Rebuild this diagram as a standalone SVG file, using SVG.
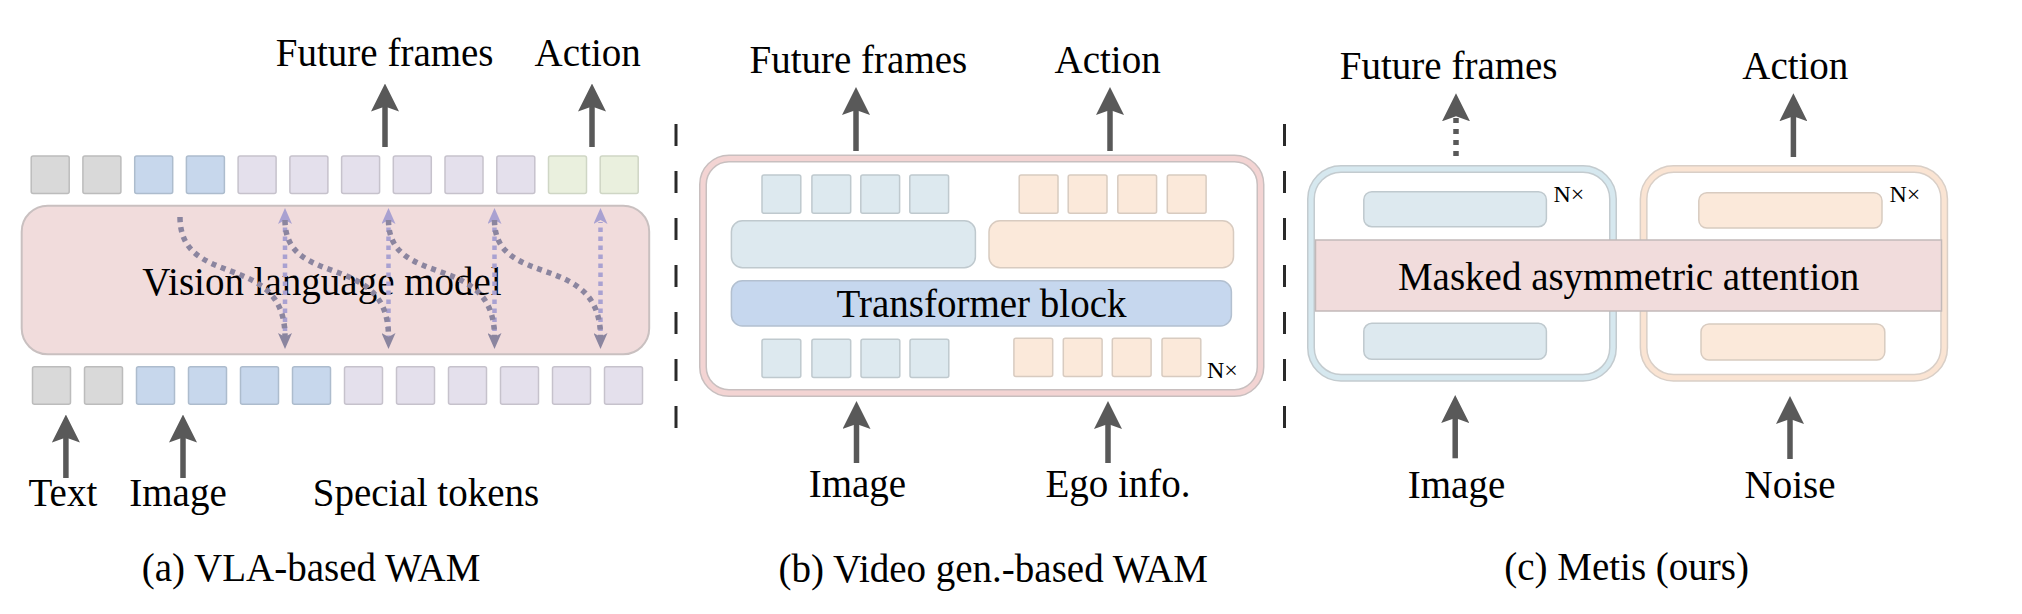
<svg xmlns="http://www.w3.org/2000/svg" width="2022" height="614" viewBox="0 0 2022 614">
<style>
text{font-family:'Liberation Serif','Times New Roman',serif;font-size:39px;fill:#000;text-anchor:middle}
.nx{font-size:24px;text-anchor:start}
.tg{fill:#d9d9d9;stroke:#bcbcbc;stroke-width:1.5}
.tb{fill:#c7d7ec;stroke:#adbccd;stroke-width:1.5}
.tl{fill:#e4e0ec;stroke:#c6c2cc;stroke-width:1.5}
.tn{fill:#eaf0de;stroke:#cfd6c5;stroke-width:1.5}
.lb{fill:#dde9ef;stroke:#bfc9ce;stroke-width:1.5}
.pc{fill:#fbe9da;stroke:#d8cbc0;stroke-width:1.5}
.arr{stroke:#595959;stroke-width:5.5;fill:none;marker-end:url(#ah)}
.sep{stroke:#2a2a2a;stroke-width:3;stroke-dasharray:22 25}
.vl{stroke:#a9a1d1;stroke-width:4.5;stroke-dasharray:4.5 4.5;fill:none;marker-end:url(#ahl)}
.cv{stroke:#8b859f;stroke-width:5.5;stroke-dasharray:5 5;fill:none;marker-end:url(#ahd)}
</style>
<defs>
<marker id="ah" markerUnits="userSpaceOnUse" viewBox="0 0 28 28" markerWidth="28" markerHeight="28" refX="8" refY="14" orient="auto"><path d="M0,0 L28,14 L0,28 L5,14 Z" fill="#595959"/></marker>
<marker id="ahl" markerUnits="userSpaceOnUse" viewBox="0 0 16 14" markerWidth="16" markerHeight="14" refX="2" refY="7" orient="auto"><path d="M0,0 L16,7 L0,14 L4,7 Z" fill="#a9a1d1"/></marker>
<marker id="ahd" markerUnits="userSpaceOnUse" viewBox="0 0 16 14" markerWidth="16" markerHeight="14" refX="4" refY="7" orient="auto"><path d="M0,0 L16,7 L0,14 L4,7 Z" fill="#8b859f"/></marker>
</defs>

<g id="separators">
<line class="sep" x1="676" y1="124" x2="676" y2="432"/>
<line class="sep" x1="1284.5" y1="124" x2="1284.5" y2="432"/>
</g>

<!-- Panel (a) -->
<g id="a-top-tokens">
<rect class="tg" x="31.2" y="156" width="38" height="37.5" rx="2"/>
<rect class="tg" x="82.9" y="156" width="38" height="37.5" rx="2"/>
<rect class="tb" x="134.7" y="156" width="38" height="37.5" rx="2"/>
<rect class="tb" x="186.4" y="156" width="38" height="37.5" rx="2"/>
<rect class="tl" x="238.1" y="156" width="38" height="37.5" rx="2"/>
<rect class="tl" x="289.9" y="156" width="38" height="37.5" rx="2"/>
<rect class="tl" x="341.6" y="156" width="38" height="37.5" rx="2"/>
<rect class="tl" x="393.3" y="156" width="38" height="37.5" rx="2"/>
<rect class="tl" x="445" y="156" width="38" height="37.5" rx="2"/>
<rect class="tl" x="496.8" y="156" width="38" height="37.5" rx="2"/>
<rect class="tn" x="548.5" y="156" width="38" height="37.5" rx="2"/>
<rect class="tn" x="600.2" y="156" width="38" height="37.5" rx="2"/>
</g>
<g id="a-vlm">
<rect x="21.7" y="205.7" width="627.5" height="148.6" rx="26" fill="#f1dcdc" stroke="#c9c0c0" stroke-width="2"/>
<text x="322" y="295">Vision language model</text>
</g>
<g id="a-bottom-tokens">
<rect class="tg" x="32.5" y="366.7" width="38" height="37.5" rx="2"/>
<rect class="tg" x="84.5" y="366.7" width="38" height="37.5" rx="2"/>
<rect class="tb" x="136.5" y="366.7" width="38" height="37.5" rx="2"/>
<rect class="tb" x="188.5" y="366.7" width="38" height="37.5" rx="2"/>
<rect class="tb" x="240.5" y="366.7" width="38" height="37.5" rx="2"/>
<rect class="tb" x="292.5" y="366.7" width="38" height="37.5" rx="2"/>
<rect class="tl" x="344.5" y="366.7" width="38" height="37.5" rx="2"/>
<rect class="tl" x="396.5" y="366.7" width="38" height="37.5" rx="2"/>
<rect class="tl" x="448.5" y="366.7" width="38" height="37.5" rx="2"/>
<rect class="tl" x="500.5" y="366.7" width="38" height="37.5" rx="2"/>
<rect class="tl" x="552.5" y="366.7" width="38" height="37.5" rx="2"/>
<rect class="tl" x="604.5" y="366.7" width="38" height="37.5" rx="2"/>
</g>
<g id="a-labels">
<text x="384.7" y="66">Future frames</text>
<text x="587.7" y="66">Action</text>
<text x="62.9" y="506">Text</text>
<text x="178" y="506">Image</text>
<text x="426" y="506">Special tokens</text>
<text x="311" y="581">(a) VLA-based WAM</text>
</g>

<!-- Panel (b) -->
<g id="b-block">
<rect x="703" y="158.5" width="557.5" height="234.5" rx="26" fill="#fff" stroke="#c8bfbf" stroke-width="8"/>
<rect x="703" y="158.5" width="557.5" height="234.5" rx="26" fill="none" stroke="#f3d4d3" stroke-width="5"/>
<rect class="lb" x="762" y="175" width="38.8" height="38.3" rx="2"/>
<rect class="lb" x="811.9" y="175" width="38.8" height="38.3" rx="2"/>
<rect class="lb" x="860.8" y="175" width="38.8" height="38.3" rx="2"/>
<rect class="lb" x="909.8" y="175" width="38.8" height="38.3" rx="2"/>
<rect class="pc" x="1019.2" y="175" width="38.8" height="38.3" rx="2"/>
<rect class="pc" x="1068.2" y="175" width="38.8" height="38.3" rx="2"/>
<rect class="pc" x="1117.8" y="175" width="38.8" height="38.3" rx="2"/>
<rect class="pc" x="1167.3" y="175" width="38.8" height="38.3" rx="2"/>
<rect class="lb" x="731.4" y="220.7" width="244" height="47" rx="11"/>
<rect class="pc" x="989" y="220.7" width="244.5" height="47" rx="11"/>
<rect x="731.4" y="280.7" width="500" height="45.3" rx="11" fill="#c6d7ee" stroke="#b3c0d0" stroke-width="1.5"/>
<text x="981.5" y="316.7">Transformer block</text>
<rect class="lb" x="762" y="339.3" width="38.8" height="38.3" rx="2"/>
<rect class="lb" x="811.9" y="339.3" width="38.8" height="38.3" rx="2"/>
<rect class="lb" x="861" y="339.3" width="38.8" height="38.3" rx="2"/>
<rect class="lb" x="910" y="339.3" width="38.8" height="38.3" rx="2"/>
<rect class="pc" x="1013.9" y="338.3" width="38.8" height="38.3" rx="2"/>
<rect class="pc" x="1063.3" y="338.3" width="38.8" height="38.3" rx="2"/>
<rect class="pc" x="1112.3" y="338.3" width="38.8" height="38.3" rx="2"/>
<rect class="pc" x="1162" y="338.3" width="38.8" height="38.3" rx="2"/>
<text class="nx" x="1207" y="378.3">N×</text>
</g>
<g id="b-labels">
<text x="858.4" y="73.3">Future frames</text>
<text x="1107.6" y="73.3">Action</text>
<text x="857.4" y="496.7">Image</text>
<text x="1118" y="496.7">Ego info.</text>
<text x="993.3" y="581.7">(b) Video gen.-based WAM</text>
</g>

<!-- Panel (c) -->
<g id="c-visual">
<rect x="1311" y="169" width="302" height="208.7" rx="30" fill="#fff" stroke="#c3cbcf" stroke-width="8"/>
<rect x="1311" y="169" width="302" height="208.7" rx="30" fill="none" stroke="#d6e8ef" stroke-width="5"/>
<rect class="lb" x="1363.8" y="191.7" width="182.6" height="35" rx="8"/>
<rect class="lb" x="1363.8" y="323.3" width="182.6" height="36" rx="8"/>
<text class="nx" x="1553.5" y="201.7">N×</text>
</g>
<g id="c-action">
<rect x="1643.6" y="169" width="300.6" height="208.7" rx="30" fill="#fff" stroke="#d9cfc7" stroke-width="8"/>
<rect x="1643.6" y="169" width="300.6" height="208.7" rx="30" fill="none" stroke="#fae4d3" stroke-width="5"/>
<rect class="pc" x="1698.8" y="192.7" width="183.2" height="35.3" rx="8"/>
<rect class="pc" x="1701" y="324" width="183.8" height="36" rx="8"/>
<text class="nx" x="1889.5" y="201.7">N×</text>
</g>
<g id="c-attention">
<rect x="1315.5" y="240" width="626" height="71" fill="#f1dcdc" stroke="#c2b9b9" stroke-width="1.5"/>
<text x="1628.6" y="290">Masked asymmetric attention</text>
</g>
<g id="c-labels">
<text x="1448.7" y="79.3">Future frames</text>
<text x="1795.3" y="79.3">Action</text>
<text x="1456.5" y="498.3">Image</text>
<text x="1790" y="498.3">Noise</text>
<text x="1626.6" y="580">(c) Metis (ours)</text>
</g>

<g id="connectors">
<!-- panel (a) attention flows -->
<path class="vl" d="M285,340 L285,222"/>
<path class="vl" d="M388.5,340 L388.5,222"/>
<path class="vl" d="M494.5,340 L494.5,222"/>
<path class="vl" d="M600.5,340 L600.5,222"/>
<path class="cv" d="M180,217 C180,290 285,250 285,337"/>
<path class="cv" d="M285,220 C285,290 388.5,250 388.5,337"/>
<path class="cv" d="M388.5,220 C388.5,290 494.5,250 494.5,337"/>
<path class="cv" d="M494.5,220 C494.5,290 600.5,250 600.5,337"/>
<!-- panel (a) io arrows -->
<path class="arr" d="M385,147 L385,103.5"/>
<path class="arr" d="M592,147 L592,103.5"/>
<path class="arr" d="M65.9,478 L65.9,434.5"/>
<path class="arr" d="M183,478 L183,434.5"/>
<!-- panel (b) -->
<path class="arr" d="M856,151 L856,107"/>
<path class="arr" d="M1110,151 L1110,107"/>
<path class="arr" d="M856.5,463 L856.5,421"/>
<path class="arr" d="M1108,463 L1108,421"/>
<!-- panel (c) -->
<path class="arr" d="M1456,156 L1456,113.3" stroke-dasharray="5 6"/>
<path class="arr" d="M1793.4,157 L1793.4,113.3"/>
<path class="arr" d="M1455.2,458.3 L1455.2,415"/>
<path class="arr" d="M1790,459 L1790,416"/>
</g>
</svg>
